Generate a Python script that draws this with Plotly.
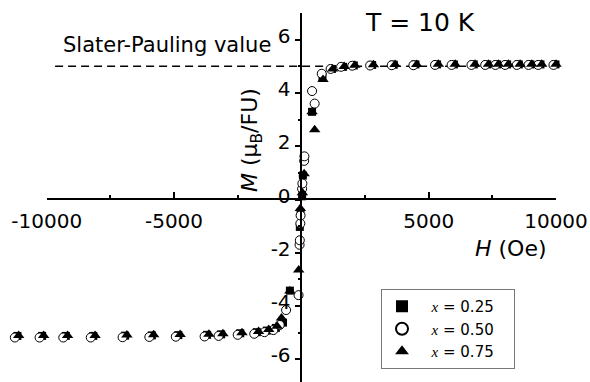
import plotly.graph_objects as go

# ---------------- data ----------------
H_025 = [-11150, -10180, -9250, -8170, -6920, -5870, -4830, -3700, -3150, -2400, -1750, -1350, -1000,
         -720, -450, -60, -30, 30, 60, 420, 830, 1200, 1640, 2060, 2780, 3630, 4480, 5330, 5990,
         6770, 7300, 7690, 8080, 8540, 9000, 9390, 9980]
M_025 = [-5.12, -5.12, -5.12, -5.12, -5.11, -5.10, -5.09, -5.08, -5.06, -5.02, -4.98, -4.92, -4.82,
         -4.62, -3.42, -1.03, -0.50, 0.12, 0.90, 3.29, 4.60, 4.90, 4.98, 5.03, 5.05, 5.06, 5.07, 5.07, 5.07,
         5.07, 5.07, 5.07, 5.07, 5.07, 5.07, 5.07, 5.07]

H_050 = [-11250, -10280, -9350, -8270, -7020, -5970, -4930, -3800, -3250, -2500, -1850, -1450, -1100,
         -850, -600, -110, -70, -60, -40, -30, 30, 40, 110, 120, 420, 523, 800, 1150, 1560, 2000, 2700,
         3550, 4400, 5250, 5900, 6680, 7220, 7620, 8000, 8460, 8920, 9300, 9900]
M_050 = [-5.18, -5.18, -5.18, -5.18, -5.17, -5.16, -5.15, -5.14, -5.12, -5.08, -5.04, -4.98, -4.90,
         -4.71, -4.15, -3.59, -1.70, -1.53, -0.90, -0.60, 0.40, 0.60, 1.45, 1.62, 4.07, 3.60, 4.72, 4.90,
         4.98, 5.02, 5.03, 5.04, 5.04, 5.05, 5.05, 5.05, 5.05, 5.05, 5.05, 5.05, 5.05, 5.05, 5.05]

H_075 = [-11100, -10120, -9180, -8100, -6850, -5800, -4760, -3630, -3080, -2330, -1680, -1280, -950,
         -780, -450, -105, -40, 40, 110, 420, 523, 850, 1230, 1680, 2100, 2830, 3680, 4530, 5380, 6040,
         6820, 7350, 7740, 8130, 8590, 9050, 9440, 10000]
M_075 = [-5.10, -5.10, -5.10, -5.10, -5.09, -5.08, -5.07, -5.06, -5.04, -5.00, -4.95, -4.88, -4.76,
         -4.45, -3.43, -2.65, -0.34, 0.25, 0.97, 3.29, 2.62, 4.50, 4.90, 4.99, 5.04, 5.06, 5.07, 5.07,
         5.08, 5.08, 5.08, 5.08, 5.08, 5.08, 5.08, 5.08, 5.08, 5.08]

SERIES_NAMES = ["x = 0.25", "x = 0.50", "x = 0.75"]
X_TICKS = [-10000, -5000, 5000, 10000]
X_MINOR = [-7500, -2500, 2500, 7500]
Y_TICKS = [-6, -4, -2, 0, 2, 4, 6]
Y_MINOR = [-5, -3, -1, 1, 3, 5]
SP_VALUE = 5.0
SP_LINE_START = -9670
AXIS_RANGE = [-10000, 10000]   # drawn H axis
Y_RANGE = [-6.85, 7.0]

# ---------------- geometry ----------------
W, Hh = 590, 382
PLOT_L, PLOT_R = 8, 556          # data area (pixels)
AXIS_L = 46.7                    # pixel where the drawn H axis begins
PLOT_T, PLOT_B = 13, 382
px_per_oe = (PLOT_R - AXIS_L) / (AXIS_RANGE[1] - AXIS_RANGE[0])
DATA_RANGE = [AXIS_RANGE[0] - (AXIS_L - PLOT_L) / px_per_oe, AXIS_RANGE[1]]

FONT = "DejaVu Sans"
fig = go.Figure()

def legend_name(n):
    return ('&nbsp;&nbsp;<span style="font-family:Liberation Serif"><i>x</i></span>' + n[1:]
            + '&nbsp;&nbsp;&nbsp;')

fig.add_trace(go.Scatter(x=H_025, y=M_025, mode="markers", name=legend_name(SERIES_NAMES[0]),
                         cliponaxis=False,
                         marker=dict(symbol="square", size=8, color="black", line=dict(width=0))))
fig.add_trace(go.Scatter(x=H_050, y=M_050, mode="markers", name=legend_name(SERIES_NAMES[1]),
                         cliponaxis=False,
                         marker=dict(symbol="circle", size=9, color="white", line=dict(width=1, color="black"))))
fig.add_trace(go.Scatter(x=H_075, y=M_075, mode="markers", name=legend_name(SERIES_NAMES[2]),
                         cliponaxis=False,
                         marker=dict(symbol="triangle-up", size=10, color="black", line=dict(width=0))))
# empty trace so that the drawn H axis (x2) is created
fig.add_trace(go.Scatter(x=[], y=[], xaxis="x2", yaxis="y", mode="markers",
                         showlegend=False, hoverinfo="skip"))

# Slater-Pauling dashed line
fig.add_shape(type="line", x0=SP_LINE_START, x1=AXIS_RANGE[1], y0=SP_VALUE, y1=SP_VALUE,
              xref="x", yref="y", line=dict(color="black", width=1.5, dash="8px,5px"), layer="below")

y0_pos = (0 - Y_RANGE[0]) / (Y_RANGE[1] - Y_RANGE[0])
x0_pos = (0 - DATA_RANGE[0]) / (DATA_RANGE[1] - DATA_RANGE[0])
axis_dom0 = (AXIS_L - PLOT_L) / (PLOT_R - PLOT_L)

pw = PLOT_R - PLOT_L
ph = PLOT_B - PLOT_T

def px_to_paper(px, py):
    return (px - PLOT_L) / pw, (PLOT_B - py) / ph

lx, ly = px_to_paper(381, 289)

fig.update_layout(
    width=W, height=Hh,
    margin=dict(l=PLOT_L, r=W - PLOT_R, t=PLOT_T, b=Hh - PLOT_B, autoexpand=False),
    paper_bgcolor="white", plot_bgcolor="rgba(0,0,0,0)",
    font=dict(family=FONT, size=20, color="black"),
    showlegend=True,
    legend=dict(x=lx, y=ly, xanchor="left", yanchor="top",
                bordercolor="#777777", borderwidth=1, bgcolor="white",
                font=dict(family=FONT, size=15), tracegroupgap=0, itemsizing="constant"),
    # data axis (not drawn)
    xaxis=dict(range=DATA_RANGE, visible=False, showgrid=False, zeroline=False, automargin=False),
    # drawn H axis
    xaxis2=dict(range=AXIS_RANGE, domain=[axis_dom0, 1], anchor="free", position=y0_pos,
                showgrid=False, zeroline=False, automargin=False,
                showline=True, linecolor="black", linewidth=1.5,
                tickmode="array", tickvals=X_TICKS, ticktext=[str(v) for v in X_TICKS],
                ticks="inside", ticklen=7, tickwidth=1.5, tickcolor="black",
                minor=dict(tickmode="array", tickvals=X_MINOR, ticks="inside", ticklen=4,
                           tickwidth=1.5, tickcolor="black", showgrid=False),
                tickfont=dict(size=20), ticklabelstandoff=4),
    yaxis=dict(range=Y_RANGE, anchor="free", position=x0_pos, showgrid=False, zeroline=False,
               automargin=False,
               showline=True, linecolor="black", linewidth=1.5,
               tickmode="array", tickvals=Y_TICKS, ticktext=[str(v) for v in Y_TICKS],
               ticks="outside", ticklen=6, tickwidth=1.5, tickcolor="black",
               minor=dict(tickmode="array", tickvals=Y_MINOR, ticks="outside", ticklen=3,
                          tickwidth=1.5, tickcolor="black", showgrid=False),
               tickfont=dict(size=20), ticklabelshift=-4),
)

def add_text(px, py, text, size, angle=0):
    ax, ay = px_to_paper(px, py)
    fig.add_annotation(x=ax, y=ay, xref="paper", yref="paper", text=text,
                       xanchor="center", yanchor="middle", showarrow=False,
                       textangle=angle, font=dict(size=size, family=FONT))

add_text(167, 45, "Slater-Pauling value", 21)
add_text(420, 22, "T = 10 K", 25)
add_text(511, 248, "<i>H</i> (Oe)", 22)
add_text(251, 140, "<i>M</i> (μ<sub>B</sub>/FU)", 22, angle=-90)

fig.write_html("out.html", config={"displayModeBar": False},
               post_script="document.body.style.margin='0px';")
